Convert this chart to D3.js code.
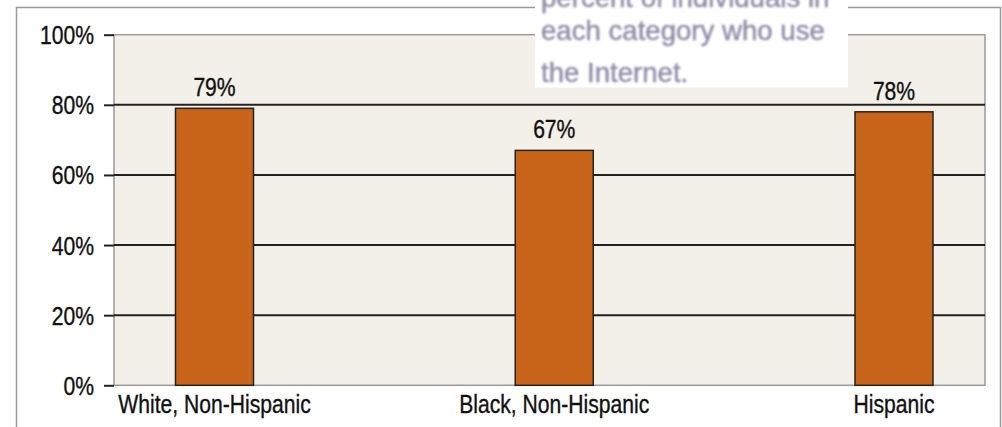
<!DOCTYPE html>
<html>
<head>
<meta charset="utf-8">
<script src="https://cdn.jsdelivr.net/npm/d3@7"></script>
<style>
  html, body { margin: 0; padding: 0; background: #fff; }
  svg { display: block; }
  text { font-family: "Liberation Sans", Arial, Helvetica, sans-serif; }
  .lbl { fill: #111; stroke: #111; stroke-width: 0.35px; }
</style>
</head>
<body>
<div id="chart"></div>
<script>
// Share of each group who use the Internet
const categories = ["White, Non-Hispanic", "Black, Non-Hispanic", "Hispanic"];
const values = [79, 67, 78];
const valueLabels = ["79%", "67%", "78%"];
const yTicks = [0, 20, 40, 60, 80, 100];
const yTickLabels = ["0%", "20%", "40%", "60%", "80%", "100%"];
const noteLines = ["percent of individuals in", "each category who use", "the Internet."];

const W = 1002, H = 427;
const plot = { left: 114, top: 34.7, right: 985, bottom: 385.3 };
const fontSize = 25;
const squeeze = 0.845; // condensed look for the chart lettering

const svg = d3.select("#chart").append("svg")
  .attr("width", W).attr("height", H);

const defs = svg.append("defs");
defs.append("filter").attr("id", "soft")
  .append("feGaussianBlur").attr("stdDeviation", 0.8);

// outer frame
svg.append("path")
  .attr("d", `M16.5,${H + 2} V7.5 H1000.5 V${H + 2}`)
  .attr("fill", "none").attr("stroke", "#9a9a9a").attr("stroke-width", 1.5);

const y = d3.scaleLinear().domain([0, 100]).range([plot.bottom, plot.top]);
const x = d3.scalePoint().domain(categories)
  .range([plot.left + 100.5, plot.right - 91]);
const barW = 78;

// plot background
svg.append("rect")
  .attr("x", plot.left).attr("y", plot.top)
  .attr("width", plot.right - plot.left).attr("height", plot.bottom - plot.top)
  .attr("fill", "#f2f0e8").attr("stroke", "#9a9a9a").attr("stroke-width", 1.5);

// gridlines between the ends of the scale
svg.append("g").selectAll("line")
  .data(yTicks.filter(t => t > 0 && t < 100))
  .join("line")
  .attr("x1", plot.left).attr("x2", plot.right)
  .attr("y1", d => y(d)).attr("y2", d => y(d))
  .attr("stroke", "#222").attr("stroke-width", 2);

// y axis
const yAxis = svg.append("g")
  .attr("transform", `translate(${plot.left},0)`)
  .call(d3.axisLeft(y).tickValues(yTicks)
    .tickFormat((d, i) => yTickLabels[i]).tickSize(10).tickPadding(10));
yAxis.select(".domain").remove();
yAxis.selectAll(".tick line").attr("stroke", "#222").attr("stroke-width", 2);
yAxis.selectAll(".tick text")
  .attr("class", "lbl")
  .attr("font-size", fontSize)
  .attr("font-family", "'Liberation Sans', Arial, sans-serif")
  .attr("x", -20 / squeeze).attr("dy", "0.36em")
  .attr("transform", `scale(${squeeze},1)`);

// bars
svg.append("g").selectAll("rect")
  .data(values)
  .join("rect")
  .attr("x", (d, i) => x(categories[i]) - barW / 2)
  .attr("y", d => y(d))
  .attr("width", barW)
  .attr("height", d => y(0) - y(d))
  .attr("fill", "#c8641a").attr("stroke", "#222").attr("stroke-width", 1.5);

// value labels
svg.append("g").selectAll("text")
  .data(values)
  .join("text")
  .attr("class", "lbl")
  .attr("transform", (d, i) => `translate(${x(categories[i])},${y(d) - 12}) scale(${squeeze},1)`)
  .attr("text-anchor", "middle").attr("font-size", fontSize)
  .text((d, i) => valueLabels[i]);

// category labels
svg.append("g").selectAll("text")
  .data(categories)
  .join("text")
  .attr("class", "lbl")
  .attr("transform", d => `translate(${x(d)},413.3) scale(${squeeze},1)`)
  .attr("text-anchor", "middle").attr("font-size", fontSize)
  .text(d => d);

// note box laid over the top of the frame; its first line runs off the top
const note = svg.append("g");
note.append("rect")
  .attr("x", 535).attr("y", -2).attr("width", 313).attr("height", 89.5)
  .attr("fill", "#fff");
note.selectAll("text")
  .data(noteLines)
  .join("text")
  .attr("x", 541)
  .attr("y", (d, i) => i === 0 ? 6.5 : 40 + (i - 1) * 41.5)
  .attr("font-size", 27.6).attr("fill", "#8f8aa6")
  .attr("stroke", "#8f8aa6").attr("stroke-width", 0.4)
  .attr("filter", "url(#soft)")
  .text(d => d);
</script>
</body>
</html>
